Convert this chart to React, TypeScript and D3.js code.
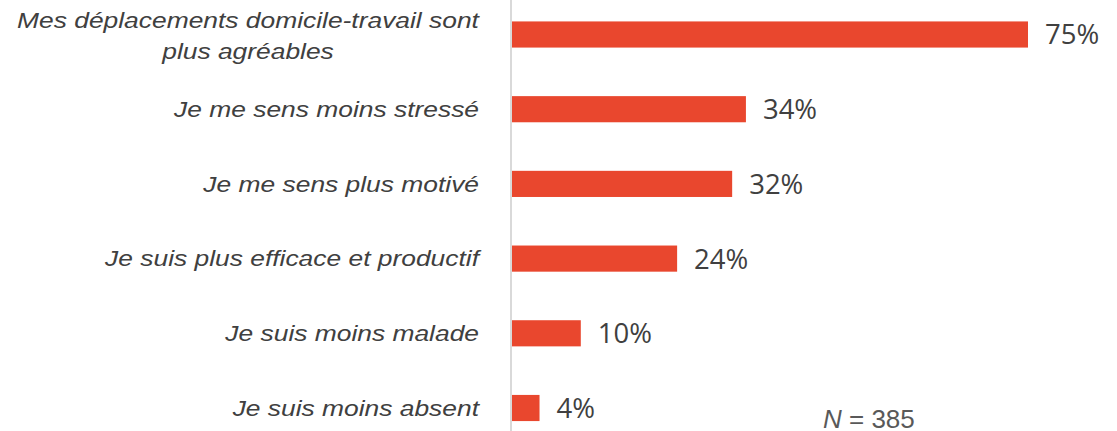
import React, { useEffect, useRef } from 'react';
import * as d3 from 'd3';

const categories = [
  'Mes déplacements domicile-travail sont plus agréables',
  'Je me sens moins stressé',
  'Je me sens plus motivé',
  'Je suis plus efficace et productif',
  'Je suis moins malade',
  'Je suis moins absent',
];
const firstLabelLines = ['Mes déplacements domicile-travail sont', 'plus agréables'];
const values = [75, 34, 32, 24, 10, 4];
const sampleSize = 385;

const W = 1117;
const H = 431;
const stretch = 1.2; // the reference text is a bit wide

const App = () => {
  const svgRef = useRef<SVGSVGElement>(null);

  useEffect(() => {
    const svg = d3.select(svgRef.current);
    svg.selectAll('*').remove();

    const x0 = 512;
    const x = d3.scaleLinear().domain([0, 75]).range([x0, 1028]);
    const y = d3.scaleBand<string>()
      .domain(categories)
      .range([-2.85, 445.35])
      .paddingInner(0.65)
      .paddingOuter(0.325);

    // axis line
    svg.append('line')
      .attr('x1', x0 - 1).attr('x2', x0 - 1)
      .attr('y1', 0).attr('y2', H)
      .attr('stroke', '#d9d9d9')
      .attr('stroke-width', 2);

    svg.append('g')
      .selectAll('rect')
      .data(values)
      .join('rect')
        .attr('x', x0)
        .attr('y', (d, i) => y(categories[i])!)
        .attr('width', d => x(d) - x0)
        .attr('height', y.bandwidth())
        .attr('fill', '#e9472e');

    // value labels
    svg.append('g')
      .selectAll('text')
      .data(values)
      .join('text')
        .attr('x', d => x(d) + 17)
        .attr('y', (d, i) => y(categories[i])! + y.bandwidth() / 2)
        .attr('dy', '0.36em')
        .attr('font-family', '"Open Sans", sans-serif')
        .attr('font-size', 27.5)
        .attr('fill', '#404040')
        .text(d => `${d}%`);

    // category labels
    const labels = svg.append('g')
      .attr('font-family', '"Liberation Sans", Arial, sans-serif')
      .attr('font-style', 'italic')
      .attr('font-size', 22)
      .attr('fill', '#404040');

    categories.forEach((c, i) => {
      const cy = y(c)! + y.bandwidth() / 2;
      if (i === 0) {
        firstLabelLines.forEach((line, j) => {
          labels.append('text')
            .attr('text-anchor', 'middle')
            .attr('transform', `translate(248,${cy - 6.5 + j * 31}) scale(${stretch},1)`)
            .text(line);
        });
      } else {
        labels.append('text')
          .attr('text-anchor', 'end')
          .attr('transform', `translate(479,${cy + 7.7}) scale(${stretch},1)`)
          .text(c);
      }
    });

    // sample size
    const n = svg.append('text')
      .attr('x', 823)
      .attr('y', 428)
      .attr('font-family', '"Liberation Sans", Arial, sans-serif')
      .attr('font-size', 26)
      .attr('fill', '#595959');
    n.append('tspan').attr('font-style', 'italic').text('N');
    n.append('tspan').text(` = ${sampleSize}`);
  }, []);

  return (
    <div style={{ position: 'absolute', left: 0, top: 0, width: W, height: H, background: '#fff' }}>
      <svg ref={svgRef} width={W} height={H} />
    </div>
  );
};

export default App;
